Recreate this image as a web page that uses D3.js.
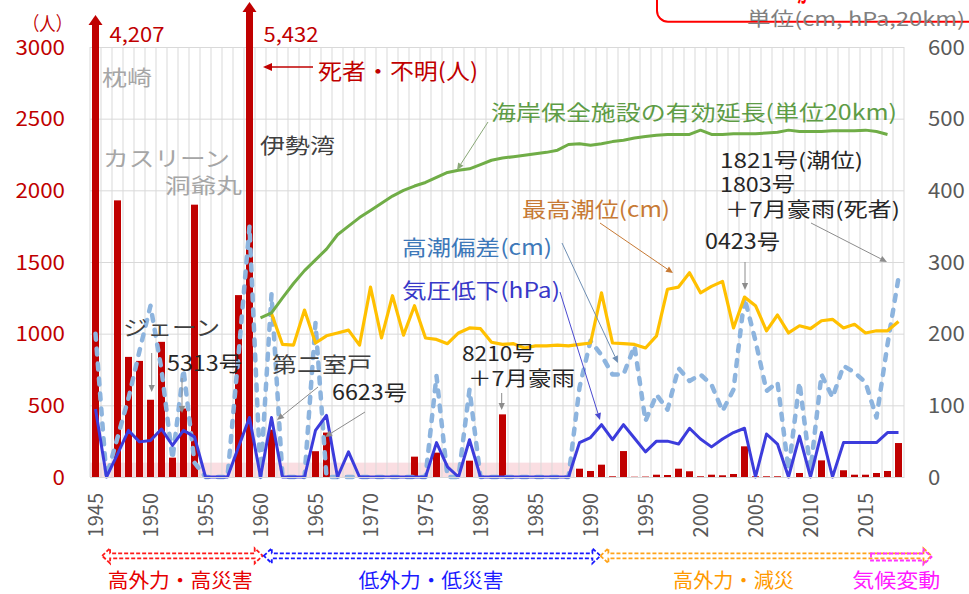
<!DOCTYPE html>
<html><head><meta charset="utf-8">
<script src="https://cdn.jsdelivr.net/npm/d3@7"></script>
<style>body{margin:0;background:#fff} svg text{font-family:"Noto Sans CJK JP","Noto Sans",sans-serif}</style>
</head><body><svg id="c" width="969" height="594"></svg>
<script>
// ---------- data ----------
const years = d3.range(1945, 2019);
const deaths = [4207,0,1930,838,810,539,943,135,478,1900,
  0,0,0,1269,5432,0,330,0,0,0,
  180,310,0,10,0,0,0,0,0,142,
  0,170,0,0,114,0,0,437,0,0,
  0,0,0,0,58,42,86,5,181,2,
  3,16,14,58,40,5,16,12,21,214,
  5,5,5,0,28,0,116,0,47,16,
  16,28,42,237];
const pressureDrop = [95,0,32,65,49,51,67,44,65,56,
  0,0,0,42,83,0,83,0,0,0,
  65,86,0,35,0,0,0,0,0,0,
  0,48,14,0,52,0,0,0,0,0,
  0,0,0,0,48,55,73,52,73,54,
  35,50,50,46,68,53,42,53,62,68,
  0,60,46,0,57,0,62,0,48,48,
  48,48,62,62];
const surge = [200,0,55,110,176,239,150,25,150,20,
  0,0,0,170,350,0,255,0,0,0,
  215,0,0,0,0,0,0,0,0,0,
  0,141,0,0,122,0,0,0,0,0,
  0,0,0,0,125,190,170,143,143,183,
  78,115,94,152,134,143,129,92,122,250,
  190,120,132,10,132,10,143,111,155,146,
  132,83,185,278];
const maxTide = [null,null,null,null,null,null,null,null,null,null,
  null,null,null,null,null,null,228,185,184,233,
  187,197,201,205,184,265,194,253,198,239,
  194,192,186,201,208,207,188,185,186,180,
  183,183,184,183,185,187,257,187,186,185,
  180,197,262,265,285,257,266,273,208,251,
  239,204,226,201,211,207,218,220,208,213,
  201,204,204,217];
const seawall = [null,null,null,null,null,null,null,null,null,null,
  null,null,null,null,null,222,229,250,270,288,
  303,318,338,350,362,372,382,392,400,406,
  411,418,425,428,430,436,442,445,447,449,
  451,453,456,464,465,463,465,468,470,473,
  475,477,478,478,478,484,478,478,479,479,
  479,480,481,484,482,482,482,483,483,483,
  484,482,478,null];
const leftTicks = [0,500,1000,1500,2000,2500,3000];
const rightTicks = [0,100,200,300,400,500,600];
const yearTicks = [1945,1950,1955,1960,1965,1970,1975,1980,1985,1990,1995,2000,2005,2010,2015];
const eraNames = ['高外力・高災害','低外力・低災害','高外力・減災','気候変動'];
const eraFrom = [1945.6, 1960.3, 1990.9, 2015.5];
const eraTo = [1960.2, 1990.9, 2021.0, 2021.0];
const lowDamageUpTo = [1945, 1988, 100];

// ---------- scales ----------
const svg = d3.select('#c');
svg.append('rect').attr('width',969).attr('height',594).attr('fill','#fff');
const x = d3.scaleBand().domain(years).range([90, 904]);
const bw = x.bandwidth();
const xc = y => x(y) + bw/2;
const yL = d3.scaleLinear().domain([0,3000]).range([477,47]);
const yR = d3.scaleLinear().domain([0,600]).range([477,47]);
const xs = d3.scaleLinear().domain([1945,2018]).range([xc(1945), xc(2018)]);
const overflowTip = d3.scaleLinear().domain([4207,5432]).range([15,2]);

// pink band
svg.append('rect')
  .attr('x', x(lowDamageUpTo[0])).attr('width', x(lowDamageUpTo[1]) + bw - x(lowDamageUpTo[0]))
  .attr('y', yL(lowDamageUpTo[2])).attr('height', yL(0) - yL(lowDamageUpTo[2]))
  .attr('fill', '#f6c3ca').attr('opacity', 0.55);

// gridlines
const grid = svg.append('g').attr('stroke','#d9d9d9').attr('stroke-width',1);
leftTicks.forEach(t => grid.append('line').attr('x1',90).attr('x2',904).attr('y1',yL(t)+0.5).attr('y2',yL(t)+0.5));
years.concat([null]).forEach((y,i) => {
  const xx = (y === null ? x(2018) + bw : x(y));
  grid.append('line').attr('x1',xx).attr('x2',xx).attr('y1',yL(3000)).attr('y2',yL(0));
});

// bars
const barW = 7;
const barData = years.map((y,i)=>({y, v:deaths[i]})).filter(d=>d.v>0);
svg.append('g').selectAll('rect').data(barData).join('rect')
  .attr('x', d => xc(d.y) - barW/2).attr('width', barW)
  .attr('y', d => yL(Math.min(d.v,3000))).attr('height', d => yL(0) - yL(Math.min(d.v,3000)))
  .attr('fill', '#c00000');
// overflow arrows
barData.filter(d => d.v > 3000).forEach(d => {
  const tip = overflowTip(d.v);
  svg.append('rect').attr('x', xc(d.y)-barW/2).attr('width', barW).attr('y', tip+8).attr('height', yL(3000)-tip-8).attr('fill','#c00000');
  svg.append('path').attr('d', `M${xc(d.y)},${tip} L${xc(d.y)+7},${tip+10} L${xc(d.y)-7},${tip+10} Z`).attr('fill','#c00000');
  svg.append('text').text(d3.format(',')(d.v)).attr('x', xc(d.y)+14).attr('y', 33)
    .attr('dominant-baseline','central').attr('font-size',20).attr('fill','#c00000')
    .attr('font-family','"Noto Sans",sans-serif')
    .attr('textLength',55).attr('lengthAdjust','spacingAndGlyphs');
});

// lines
const lineOf = (arr, sc) => d3.line().defined((d,i)=>arr[i]!==null).x((d,i)=>xc(years[i])).y((d,i)=>sc(arr[i]))(years);
svg.append('path').attr('d', lineOf(surge, yR)).attr('fill','none').attr('stroke','#8db4de')
  .attr('stroke-width',4.5).attr('stroke-dasharray','6,9').attr('stroke-linecap','round').attr('stroke-linejoin','round');
svg.append('path').attr('d', lineOf(pressureDrop, yR)).attr('fill','none').attr('stroke','#3c3cdc')
  .attr('stroke-width',3).attr('stroke-linejoin','round');
svg.append('path').attr('d', lineOf(maxTide, yR)).attr('fill','none').attr('stroke','#ffc000')
  .attr('stroke-width',3.2).attr('stroke-linejoin','round');
svg.append('path').attr('d', lineOf(seawall, yR)).attr('fill','none').attr('stroke','#70ad47')
  .attr('stroke-width',3).attr('stroke-linejoin','round');

// axes
const gl = svg.append('g').attr('transform','translate(65,0)')
  .call(d3.axisLeft(yL).tickValues(leftTicks).tickFormat(d3.format('d')).tickSize(0).tickPadding(0));
gl.select('.domain').remove();
gl.selectAll('text').attr('font-size',20).attr('fill','#c00000').attr('dy','0.35em')
  .attr('font-family','"Noto Sans",sans-serif')
  .each(function(d){ d3.select(this).attr('textLength', String(d).length*12.4).attr('lengthAdjust','spacingAndGlyphs'); });
const gr = svg.append('g').attr('transform','translate(928,0)')
  .call(d3.axisRight(yR).tickValues(rightTicks).tickFormat(d3.format('d')).tickSize(0).tickPadding(0));
gr.select('.domain').remove();
gr.selectAll('text').attr('font-size',20).attr('fill','#595959').attr('dy','0.35em')
  .attr('font-family','"Noto Sans",sans-serif')
  .each(function(d){ d3.select(this).attr('textLength', String(d).length*12.3).attr('lengthAdjust','spacingAndGlyphs'); });
const gx = svg.append('g').attr('transform',`translate(0,${yL(0)})`)
  .call(d3.axisBottom(x).tickValues(yearTicks).tickSize(0));
gx.select('.domain').attr('stroke','#d9d9d9');
gx.selectAll('text').attr('transform','rotate(-90)').attr('x',-16).attr('y',0).attr('dy','0.36em')
  .attr('text-anchor','end').attr('font-size',20).attr('fill','#595959').attr('font-family','"Noto Sans",sans-serif');

// text helpers
function T(str, x0, y0, w, size, color, weight){
  const t = svg.append('text').text(str).attr('x',x0).attr('y',y0).attr('font-size',size||21)
    .attr('fill',color).attr('dominant-baseline','central');
  if (w) t.attr('textLength',w).attr('lengthAdjust','spacingAndGlyphs');
  if (weight) t.attr('font-weight',weight);
  return t;
}
// multi-line text block: lines = [[str, x, y, width], ...]
function TB(lines, size, color){
  const t = svg.append('text').attr('font-size',size).attr('fill',color).attr('dominant-baseline','central');
  lines.forEach(l => t.append('tspan').text(l[0]).attr('x',l[1]).attr('y',l[2])
    .attr('textLength',l[3]).attr('lengthAdjust','spacingAndGlyphs').attr('dominant-baseline','central'));
  return t;
}
function arrow(x1,y1,x2,y2,color,w,h){
  const a = Math.atan2(y2-y1,x2-x1);
  const bx = x2 - Math.cos(a)*h, by = y2 - Math.sin(a)*h;
  svg.append('line').attr('x1',x1).attr('y1',y1).attr('x2',bx).attr('y2',by).attr('stroke',color).attr('stroke-width',w);
  const px = Math.sin(a)*h*0.45, py = -Math.cos(a)*h*0.45;
  svg.append('path').attr('d',`M${x2},${y2} L${bx+px},${by+py} L${bx-px},${by-py} Z`).attr('fill',color);
}

// unit labels
T('（人）', 23, 22, 49, 19, '#c00000');
svg.append('rect').attr('x',657).attr('y',-30).attr('width',340).attr('height',51.7).attr('rx',11)
  .attr('fill','#fff').attr('stroke','#ff0000').attr('stroke-width',2);
svg.append('text').text('が・・・').attr('x',797).attr('y',2).attr('font-size',22).attr('font-weight','bold')
  .attr('fill','#ff0000').attr('textLength',55).attr('lengthAdjust','spacingAndGlyphs');
T('単位(cm, hPa,20km)', 747, 17.5, 218, 19, '#7f7f7f');

// annotations
const notes = [
 ['枕崎',102,76,50,'#a6a6a6'],
 ['カスリーン',103,157,127,'#a6a6a6'],
 ['洞爺丸',165,184,77,'#a6a6a6'],
 ['伊勢湾',260,144,75,'#404040'],
 ['死者・不明(人)',318,69,160,'#c00000',22],
 ['海岸保全施設の有効延長(単位20km)',491,111,406,'#5e9c46'],
 ['0423号',705,240,75,'#262626'],
 ['最高潮位(cm)',522,208,148,'#c77a35'],
 ['高潮偏差(cm)',402,246,150,'#3d78b9'],
 ['気圧低下(hPa)',402,289,158,'#3838c8'],
 ['ジェーン',123,326,97,'#404040'],
 ['5313号',167,362,75,'#262626'],
 ['第二室戸',272,363,100,'#404040'],
 ['6623号',332,391,75,'#262626']
];
notes.forEach(n => T(n[0], n[1], n[2], n[3], n[5]||21, n[4]));
TB([['1821号(潮位)',720,159,143],['1803号',720,183,75],['＋7月豪雨(死者)',725,208,175]], 20, '#262626');
TB([['8210号',462,352,73],['＋7月豪雨',468,377,107]], 20, '#262626');
const arrows = [
 [313,67,263,67,'#c00000',1.5,9],
 [488,122,457,170,'#8aa878',1,7],
 [811,223,887,262,'#8c8c8c',1,7],
 [745,262,745,290,'#8c8c8c',1,7],
 [600,223,673,273,'#c77a35',1,7],
 [562,243,618,363,'#6f8fb4',1,7],
 [560,292,600,420,'#4a4ad0',1,7],
 [151.7,353,151.7,392,'#8c8c8c',1,7],
 [182,378,182,413,'#8c8c8c',1,7],
 [318,387,277,420,'#8c8c8c',1,7],
 [365,412,325,437,'#8c8c8c',1,7],
 [501.7,393,501.7,410,'#8c8c8c',1,7]
];
arrows.forEach(a => arrow(...a));

// era arrows
const eraColors = ['#ff1a1a','#1a1aff','#ffa31a','#ff33ff'];
const eraTextColors = ['#e60000','#1a1aff','#ff9900','#ff1aff'];
const eraLabelYear = [1952.7, 1975.5, 2003, 2017.8];
const eraLabelW = [145,145,121,88];
function blockArrow(x0,x1,yc,leftHead,color,sh){
  const hh=7.5, hl=8;
  let p = [];
  if (leftHead) p.push([x0,yc],[x0+hl,yc-hh],[x0+hl,yc-sh]); else p.push([x0,yc-sh]);
  p.push([x1-hl,yc-sh],[x1-hl,yc-hh],[x1,yc],[x1-hl,yc+hh],[x1-hl,yc+sh]);
  if (leftHead) p.push([x0+hl,yc+sh],[x0+hl,yc+hh]); else p.push([x0,yc+sh]);
  svg.append('path').attr('d','M'+p.map(q=>q.join(',')).join('L')+'Z').attr('fill','none')
    .attr('stroke',color).attr('stroke-width',1.8).attr('stroke-dasharray','4,2');
}
eraNames.forEach((name,i) => {
  blockArrow(xs(eraFrom[i]), xs(eraTo[i]), i===3?557:555.8, i!==3, eraColors[i], i===3?3.5:2.5);
  const cx = xs(eraLabelYear[i]);
  T(name, cx - eraLabelW[i]/2, 579, eraLabelW[i], 20, eraTextColors[i]);
});
</script></body></html>
